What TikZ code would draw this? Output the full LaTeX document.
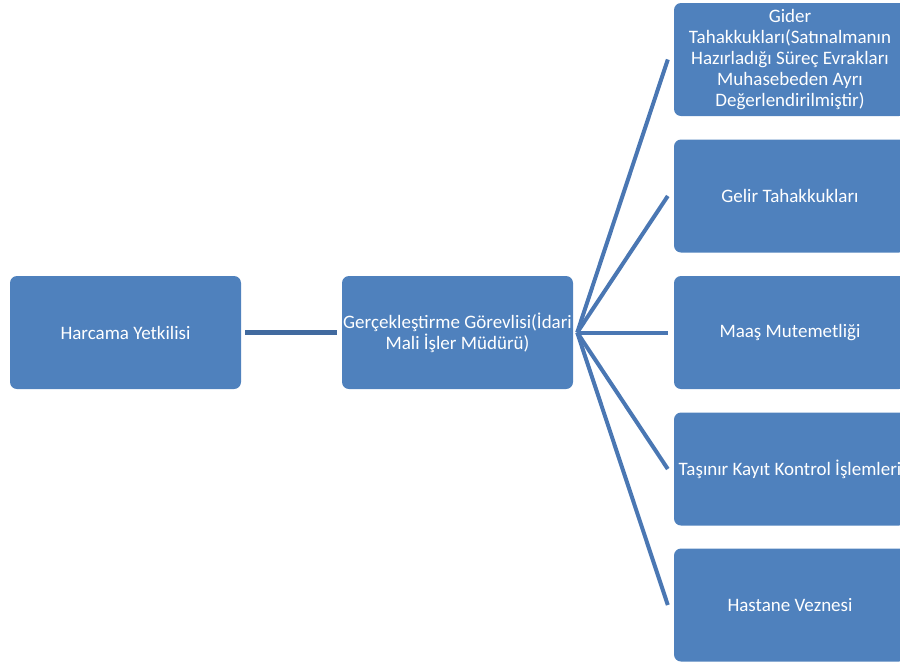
\documentclass[tikz,border=0pt]{standalone}
\usepackage{fontspec}
\setmainfont{Carlito}
\definecolor{boxblue}{HTML}{4F81BD}
\definecolor{lineA}{HTML}{416A9F}
\definecolor{lineB}{HTML}{4A77B3}
\begin{document}
\begin{tikzpicture}[x=1pt,y=-1pt,
  box/.style={draw=none,fill=boxblue,rounded corners=7pt,minimum width=231pt,minimum height=113pt,
    inner sep=0pt,text=white,align=center,font=\fontsize{19}{21}\selectfont},
  rbox/.style={box,minimum width=232pt},
  fan/.style={draw=lineB,line width=4pt},
  link/.style={draw=lineA,line width=4.5pt}]
\useasboundingbox (0,0) rectangle (900,662);
\node[box] (hy) at (125.5,332.5) {Harcama Yetkilisi};
\node[box] (gg) at (457.5,332.5) {Gerçekleştirme Görevlisi(İdari\\Mali İşler Müdürü)};
\node[rbox] (r1) at (790,59.5) {Gider\\Tahakkukları(Satınalmanın\\Hazırladığı Süreç Evrakları\\Muhasebeden Ayrı\\Değerlendirilmiştir)};
\node[rbox] (r2) at (790,196) {Gelir Tahakkukları};
\node[rbox] (r3) at (790,332.5) {Maaş Mutemetliği};
\node[rbox] (r4) at (790,469) {Taşınır Kayıt Kontrol İşlemleri};
\node[rbox] (r5) at (790,605) {Hastane Veznesi};
\coordinate (hub) at ([xshift=4pt]gg.east);
\draw[link] ([xshift=4pt]hy.east) -- ([xshift=-5pt]gg.west);
\foreach \r in {r1,r2,r3,r4,r5}{
  \draw[fan] (hub) -- ([xshift=-6pt]\r.west);
}
\end{tikzpicture}
\end{document}
